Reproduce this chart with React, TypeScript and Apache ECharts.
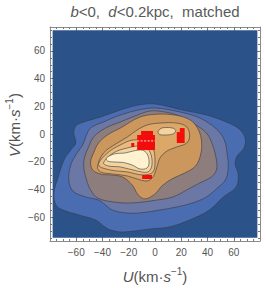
import React, { useEffect, useRef } from "react";
import * as echarts from "echarts";

// ---- data (U, V in km/s) ----
const majorTicks = [-60, -40, -20, 0, 20, 40, 60];
const minorTicks = [-75, -70, -65, -55, -50, -45, -35, -30, -25, -15, -10, -5, 5, 10, 15, 25, 30, 35, 45, 50, 55, 65, 70, 75];
const plotBox = [-78, -75, 78, 75];

const contourL1 = [
  [0, 21.7], [21.1, 17.3], [39.2, 13.7], [54.3, 8.7], [64.2, 3.6], [68.7, -2.9], [67.9, -10.1],
  [62.6, -15.9], [61.1, -21.7], [63.4, -28.9], [61.9, -38.3], [52.1, -45.5], [41.5, -54.9],
  [26.4, -62.1], [11.3, -67.1], [-3.8, -68.6], [-24.2, -70.8], [-34, -69.3], [-39.2, -66.4],
  [-45.3, -62.1], [-58.1, -58.5], [-70.2, -54.9], [-75.5, -51.3], [-77, -42.6], [-74, -31.8],
  [-69.4, -18.8], [-64.2, -11.6], [-60.4, -6.5], [-61.9, 0.7], [-60.4, 5.8], [-54.3, 8.7],
  [-41.5, 12.3], [-26.4, 17.3], [-12.8, 20.9],
];
const contourL2 = [
  [0, 18.8], [18.9, 15.9], [34, 11.6], [46.8, 3.6], [52.8, -4.3], [55.1, -15.2], [55.8, -24.5],
  [53.6, -33.2], [47.5, -39], [39.2, -45.5], [28.7, -49.8], [16.6, -52.7], [3.8, -54.9],
  [-11.3, -57], [-22.6, -57], [-32.5, -54.9], [-37.7, -51.3], [-43, -47.7], [-52.8, -45.5],
  [-62.6, -41.2], [-65.7, -33.2], [-64.2, -22.4], [-60.4, -15.2], [-55.1, -7.9], [-52.8, -2.2],
  [-49.1, 4.3], [-39.2, 8.7], [-26.4, 13.7], [-12.8, 17.3],
];
const contourL3 = [
  [-3.8, 16.6], [7.5, 15.9], [16.6, 13.7], [28.7, 7.9], [39.2, 0.7], [43.8, -7.9], [46.8, -18.8],
  [46.8, -26], [43, -31], [34, -35.4], [24.2, -40.4], [13.6, -45.5], [1.5, -47.7], [-17.4, -49.8],
  [-31.7, -49.1], [-43.8, -46.2], [-49.1, -40.4], [-52.1, -33.2], [-54.3, -23.8], [-53.6, -16.6],
  [-50.6, -9.4], [-46.8, -2.2], [-37.7, 4.3], [-26.4, 8.7], [-15.1, 13],
];
const contourL4 = [
  [-26.4, 4.3], [-36.2, -0.7], [-43, -6.5], [-46.8, -13.7], [-49.1, -20.2], [-47.5, -26],
  [-41.5, -28.9], [-34, -29.6], [-24.9, -31], [-17.4, -36.8], [-12.8, -44], [-7.5, -46.9],
  [0, -43.3], [5.3, -37.5], [12.8, -32.5], [22.6, -28.2], [30.9, -23.1], [34.7, -15.2],
  [35.5, -5.8], [33.2, 2.9], [27.9, 9.4], [18.9, 13], [3.8, 14.4], [-11.3, 12.3],
];
const contourL5 = [
  [-43.8, -23.8], [-39.2, -13.7], [-28.7, -6.5], [-21.1, -2.2], [-13.6, 2.9], [-6, 6.5],
  [3.8, 7.9], [16.6, 7.9], [24.2, 5.1], [26.4, -1.4], [24.2, -6.5], [16.6, -9.4], [9.1, -12.3],
  [3.8, -17.3], [1.5, -23.8], [-1.5, -31], [-6, -33.9], [-13.6, -32.5], [-21.1, -30.3],
  [-31.7, -28.9], [-41.5, -27.4],
];
const contourL6 = [
  [-43, -22.4], [-36.2, -13.7], [-26.4, -7.9], [-16.6, -4.3], [-6, -5.8], [-1.5, -10.1],
  [0, -18.8], [-1.5, -27.4], [-9.1, -29.6], [-21.1, -27.4], [-34, -26],
];
const contourL6b = [
  [2.3, 1.4], [4.5, 4], [9.1, 4.7], [14.3, 4], [15.8, 2.2], [13.6, 0], [8.3, -0.7], [3.8, -0.4],
];
const contourL7 = [
  [-39.2, -20.9], [-31.7, -13.7], [-21.1, -10.1], [-9.1, -8.7], [-3.8, -13], [-2.3, -22.4],
  [-5.3, -27.4], [-13.6, -26.7], [-26.4, -23.8], [-35.5, -23.1],
];
const contourL8 = [
  [-37, -17.3], [-30.9, -14.4], [-22.6, -13.7], [-16.6, -12.3], [-9.8, -11.6], [-6, -14.4],
  [-4.5, -20.2], [-6, -24.5], [-11.3, -25.3], [-17.4, -22.4], [-24.2, -20.6], [-31.7, -20.2],
  [-36.2, -19.5],
];
// matched stars: [U0, V0, U1, V1]
const redBlocks = [
  [-13.6, -11.6, 0, -0.7],
  [-10.6, -0.7, -1.5, 2.2],
  [-18.1, -9.4, -15.8, -6.5],
  [16.6, -6.5, 22.6, 1.4],
  [18.9, 1.4, 22.6, 4.3],
  [-9.8, -32.5, -2.3, -29.6],
];
const dashLine = [[-13.6, -5], [0, -5]];

const levelColors = ["#2b5389", "#4a6cb0", "#6b78a5", "#8d7e7d", "#cc975c", "#dca867", "#e9bc7e", "#f4d49e", "#fff3cf"];

const FONT = "'Liberation Sans', Arial, sans-serif";
const LINE = "rgba(55,55,70,0.6)";

function polySeries(pts: number[][], color: string) {
  return {
    type: "custom",
    xAxisIndex: 0,
    yAxisIndex: 0,
    data: [pts[0]],
    silent: true,
    renderItem: (_p: any, api: any) => ({
      type: "polygon",
      shape: { points: pts.map((q) => api.coord(q)), smooth: 0.35 },
      style: { fill: color, stroke: LINE, lineWidth: 1 },
    }),
  };
}

const fmt = (v: number) => (v < 0 ? "\u2212" + Math.abs(v) : String(v));

function axisPair(kind: "x" | "y", gridIndex: number, pos: string, ticks: number[], len: number, labels: boolean, line: boolean) {
  const range = kind === "x" ? { min: -80, max: 80 } : { min: -77.3, max: 77.3 };
  return {
    type: "value",
    gridIndex,
    position: pos,
    ...range,
    splitLine: { show: false },
    axisLine: { show: line, onZero: false, lineStyle: { color: "#8a8a8a", width: 1 } },
    axisTick: { show: true, inside: true, length: len, customValues: ticks, lineStyle: { color: "#777", width: 1 } },
    axisLabel: labels
      ? { show: true, customValues: majorTicks, formatter: fmt, color: "#555", fontSize: 10, fontFamily: FONT, margin: kind === "x" ? 6 : 5 }
      : { show: false },
  };
}

const labelRich = {
  i: { fontStyle: "italic", fontSize: 15, fontFamily: FONT, fill: "#555", lineHeight: 18, verticalAlign: "bottom" },
  n: { fontSize: 15, fontFamily: FONT, fill: "#555", lineHeight: 18, verticalAlign: "bottom" },
  sup: { fontSize: 10, fontFamily: FONT, fill: "#555", lineHeight: 10, verticalAlign: "top" },
};

export default function App() {
  const ref = useRef<HTMLDivElement>(null);
  useEffect(() => {
    if (!ref.current) return;
    const chart = echarts.init(ref.current, undefined, { renderer: "svg" });
    const gridRect = { left: 50, right: 6, top: 27, bottom: 47 };
    const allTicks = [...minorTicks, ...majorTicks].sort((a, b) => a - b);
    chart.setOption({
      animation: false,
      backgroundColor: "#ffffff",
      grid: [gridRect, gridRect],
      xAxis: [
        axisPair("x", 0, "bottom", allTicks, 2, true, true),
        axisPair("x", 0, "top", allTicks, 2, false, true),
        axisPair("x", 1, "bottom", majorTicks, 4, false, false),
        axisPair("x", 1, "top", majorTicks, 4, false, false),
      ],
      yAxis: [
        axisPair("y", 0, "left", allTicks, 2, true, true),
        axisPair("y", 0, "right", allTicks, 2, false, true),
        axisPair("y", 1, "left", majorTicks, 4, false, false),
        axisPair("y", 1, "right", majorTicks, 4, false, false),
      ],
      series: [
        {
          type: "custom",
          xAxisIndex: 0,
          yAxisIndex: 0,
          data: [plotBox],
          silent: true,
          encode: { x: [0, 2], y: [1, 3] },
          renderItem: (_p: any, api: any) => {
            const a = api.coord([api.value(0), api.value(3)]);
            const b = api.coord([api.value(2), api.value(1)]);
            return { type: "rect", shape: { x: a[0], y: a[1], width: b[0] - a[0], height: b[1] - a[1] }, style: { fill: levelColors[0] } };
          },
        },
        polySeries(contourL1, levelColors[1]),
        polySeries(contourL2, levelColors[2]),
        polySeries(contourL3, levelColors[3]),
        polySeries(contourL4, levelColors[4]),
        polySeries(contourL5, levelColors[5]),
        polySeries(contourL6, levelColors[6]),
        polySeries(contourL6b, levelColors[7]),
        polySeries(contourL7, levelColors[7]),
        polySeries(contourL8, levelColors[8]),
        {
          type: "custom",
          xAxisIndex: 0,
          yAxisIndex: 0,
          data: redBlocks,
          silent: true,
          encode: { x: [0, 2], y: [1, 3] },
          renderItem: (_p: any, api: any) => {
            const a = api.coord([api.value(0), api.value(3)]);
            const b = api.coord([api.value(2), api.value(1)]);
            return { type: "rect", shape: { x: a[0], y: a[1], width: b[0] - a[0], height: b[1] - a[1] }, style: { fill: "#f20d0d" } };
          },
        },
        {
          type: "line",
          xAxisIndex: 0,
          yAxisIndex: 0,
          data: dashLine,
          symbol: "none",
          silent: true,
          lineStyle: { color: "#ffffff", width: 1, type: [2, 1.5], opacity: 0.85 },
        },
      ],
      graphic: [
        {
          type: "text",
          x: 155,
          y: 11,
          style: {
            text: "{i|b}{n|<0,  }{i|d}{n|<0.2kpc,  matched}",
            align: "center",
            verticalAlign: "middle",
            rich: {
              i: { fontStyle: "italic", fontSize: 15, fontFamily: FONT, fill: "#5a5a5a" },
              n: { fontSize: 15, fontFamily: FONT, fill: "#5a5a5a" },
            },
          },
        },
        {
          type: "text",
          x: 155,
          y: 275,
          style: { text: "{i|U}{n|(km·}{i|s}{sup|\u22121}{n|)}", align: "center", verticalAlign: "middle", rich: labelRich },
        },
        {
          type: "text",
          x: 13,
          y: 125,
          rotation: Math.PI / 2,
          style: { text: "{i|V}{n|(km·}{i|s}{sup|\u22121}{n|)}", align: "center", verticalAlign: "middle", rich: labelRich },
        },
      ],
    });
    return () => chart.dispose();
  }, []);
  return <div ref={ref} style={{ width: 266, height: 288, position: "absolute", left: 0, top: 0 }} />;
}
